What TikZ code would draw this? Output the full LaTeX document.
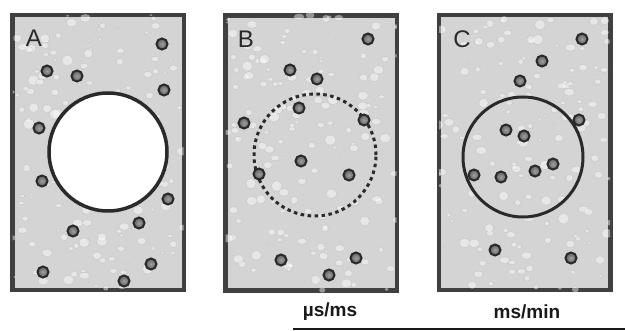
\documentclass[tikz,border=0pt]{standalone}
\usepackage{fontspec}
\setmainfont{Liberation Sans}
\definecolor{frame}{HTML}{404040}
\definecolor{ring}{HTML}{2A2A2A}
\definecolor{bg}{HTML}{D4D4D4}
\begin{document}
\begin{tikzpicture}[x=1pt,y=-1pt,
  panel/.style={draw=frame,line width=4.5pt,fill=bg,rectangle,minimum width=171.5pt,minimum height=275pt,inner sep=0pt},
  particle/.style={circle,inner sep=0pt,minimum size=11pt,draw=ring,line width=2pt,inner color=black!38,outer color=black!62},
  letter/.style={text=ring,font=\fontsize{24}{24}\selectfont,inner sep=0pt},
  timelabel/.style={text=black!90,font=\bfseries\fontsize{19}{19}\selectfont,inner sep=0pt},
  drop/.style={fill=white,fill opacity=0.45,draw=gray!75,draw opacity=0.35,line width=0.4pt}]
\useasboundingbox (0,0) rectangle (625,331);
% panels
\node[panel] (pA) at (98,152.5) {};
\node[panel] (pB) at (311,153) {};
\node[panel] (pC) at (524.5,152.5) {};
% droplet texture
\pgfmathsetseed{7}
\foreach \p in {pA,pB,pC}{
  \begin{scope}
    \clip ([xshift=2.5pt,yshift=2.5pt]\p.north west) rectangle ([xshift=-2.5pt,yshift=-2.5pt]\p.south east);
    \foreach \k in {1,...,170}{
      \pgfmathsetmacro{\dx}{rnd*172-86}
      \pgfmathsetmacro{\dy}{rnd*276-138}
      \pgfmathsetmacro{\rx}{1.2+rnd*4.5}
      \pgfmathsetmacro{\ry}{\rx*(0.6+rnd*0.4)}
      \path[drop] ([xshift=\dx pt,yshift=\dy pt]\p.center) ellipse[x radius=\rx pt,y radius=\ry pt];
    }
  \end{scope}
}
% circles
\node[circle,draw=ring,line width=3.5pt,fill=white,minimum size=118pt,inner sep=0pt] (cA) at (108,152) {};
\node[circle,draw=ring,line width=3pt,dash pattern=on 3.5pt off 3.5pt,minimum size=122pt,inner sep=0pt] (cB) at (315,155) {};
\node[circle,draw=ring,line width=3pt,minimum size=120pt,inner sep=0pt] (cC) at (523,157) {};
% letters
\node[letter] (lA) at (34,38) {A};
\node[letter] (lB) at (246,39) {B};
\node[letter] (lC) at (462,39) {C};
% particles A
\foreach \x/\y [count=\i] in {162/44,47/71,77/76,164/90,39/128,42/181,168/199,139/223,73/231,151/264,43/272,124/281}
  \node[particle] (a\i) at (\x,\y) {};
% particles B
\foreach \x/\y [count=\i] in {368/39,290/70,317/79,299/108,244/123,364/120,301/161,259/174,349/175,281/260,356/258,329/275}
  \node[particle] (b\i) at (\x,\y) {};
% particles C
\foreach \x/\y [count=\i] in {582/39,542/61,520/81,579/120,506/130,524/136,553/164,535/171,474/175,501/177,495/250,571/258}
  \node[particle] (c\i) at (\x,\y) {};
% time labels
\node[timelabel] (t1) at (330,312) {µs/ms};
\node[timelabel] (t2) at (527,312) {ms/min};
\coordinate (l1) at (293,329);
\coordinate (l2) at (625,329);
\draw[line width=2pt,black!90] (l1) -- (l2);
\end{tikzpicture}
\end{document}
